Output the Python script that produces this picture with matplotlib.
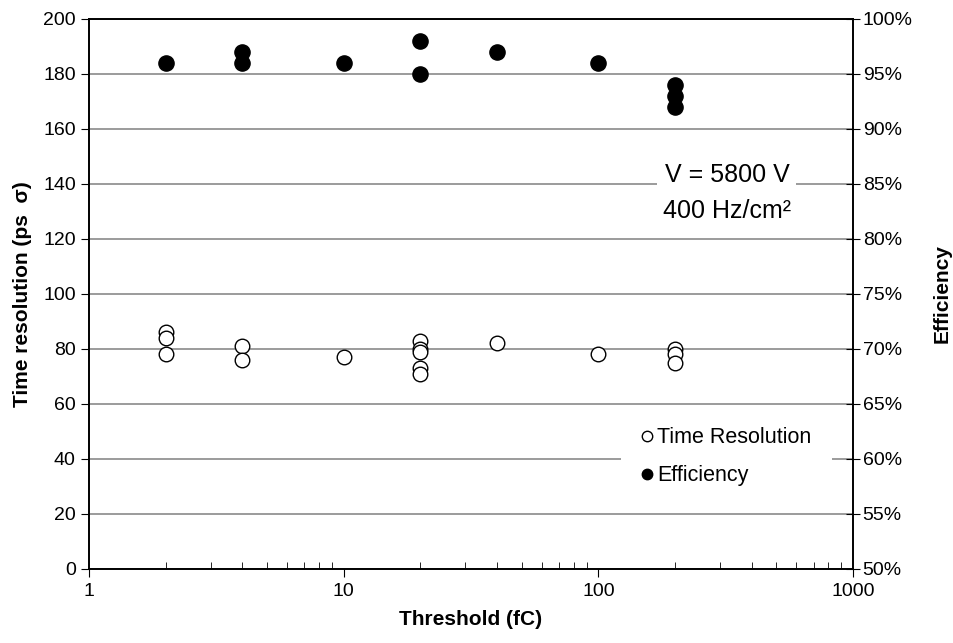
import numpy as np
import matplotlib.pyplot as plt
from matplotlib.ticker import FuncFormatter, PercentFormatter, LogLocator, MultipleLocator
from matplotlib.lines import Line2D

plt.rcParams['font.family'] = ['Liberation Sans', 'DejaVu Sans']

# time resolution (ps sigma) vs threshold (fC)
res_thr = [2, 2, 2, 4, 4, 10, 20, 20, 20, 20, 20, 40, 100, 200, 200, 200]
res_val = [86, 84, 78, 81, 76, 77, 83, 80, 79, 73, 71, 82, 78, 80, 78, 75]

# efficiency vs threshold (fC)
eff_thr = [2, 4, 4, 10, 20, 20, 40, 100, 200, 200, 200]
eff_val = [0.96, 0.97, 0.96, 0.96, 0.98, 0.95, 0.97, 0.96, 0.94, 0.93, 0.92]

fig = plt.figure(figsize=(9.54, 6.43), dpi=100)
ax = fig.add_axes([0.0933, 0.1151, 0.8008, 0.8554])
ax2 = ax.twinx()

ax.set_xscale('log')
ax.set_xlim(1, 1000)
ax.set_ylim(0, 200)
ax.yaxis.set_major_locator(MultipleLocator(20))
ax.xaxis.set_major_formatter(FuncFormatter(lambda v, p: f"{v:g}"))
ax.xaxis.set_minor_locator(LogLocator(base=10, subs=np.arange(2, 10)))
ax.xaxis.set_minor_formatter(FuncFormatter(lambda v, p: ""))
ax.grid(axis='y', color='#808080', lw=1.1)
ax.set_axisbelow(True)

ax2.set_ylim(0.5, 1.0)
ax2.yaxis.set_major_locator(MultipleLocator(0.05))
ax2.yaxis.set_major_formatter(PercentFormatter(1.0, decimals=0))

ax.tick_params(axis='x', which='major', direction='out', length=6, labelsize=14, pad=4)
ax.tick_params(axis='x', which='minor', direction='in', length=5)
ax.tick_params(axis='y', direction='out', length=6, labelsize=14)
ax2.tick_params(axis='y', direction='inout', length=10, labelsize=14, pad=2)

for a in (ax, ax2):
    for s in a.spines.values():
        s.set_linewidth(1.2)
        s.set_color('black')

ax.scatter(res_thr, res_val, s=110, facecolor='white', edgecolor='black', lw=1.0, zorder=3)
ax2.scatter(eff_thr, eff_val, s=120, facecolor='black', edgecolor='black', lw=1.0, zorder=3)

ax.set_xlabel('Threshold (fC)', fontsize=15, fontweight='bold', labelpad=7)
ax.set_ylabel('Time resolution (ps  σ)', fontsize=15, fontweight='bold', labelpad=8)
ax2.set_ylabel('Efficiency', fontsize=15, fontweight='bold', labelpad=14)

ax2.text(0.835, 0.684, 'V = 5800 V\n400 Hz/cm²', transform=ax.transAxes, ha='center', va='center',
         fontsize=18, linespacing=1.65,
         bbox=dict(facecolor='white', edgecolor='none', pad=4))

handles = [Line2D([], [], marker='o', ls='none', mfc='white', mec='black', ms=7.5, mew=1.0),
           Line2D([], [], marker='o', ls='none', mfc='black', mec='black', ms=7.5, mew=1.0)]
leg = ax2.legend(handles, ['Time Resolution', 'Efficiency'], loc='center left',
                 bbox_to_anchor=(0.697, 0.204), frameon=True, fancybox=False,
                 edgecolor='none', facecolor='white', framealpha=1, fontsize=15.5,
                 handlelength=0.5, handletextpad=0.2, labelspacing=0.77, borderpad=0.95,
                 borderaxespad=0)

fig.savefig('out.png', dpi=100)
